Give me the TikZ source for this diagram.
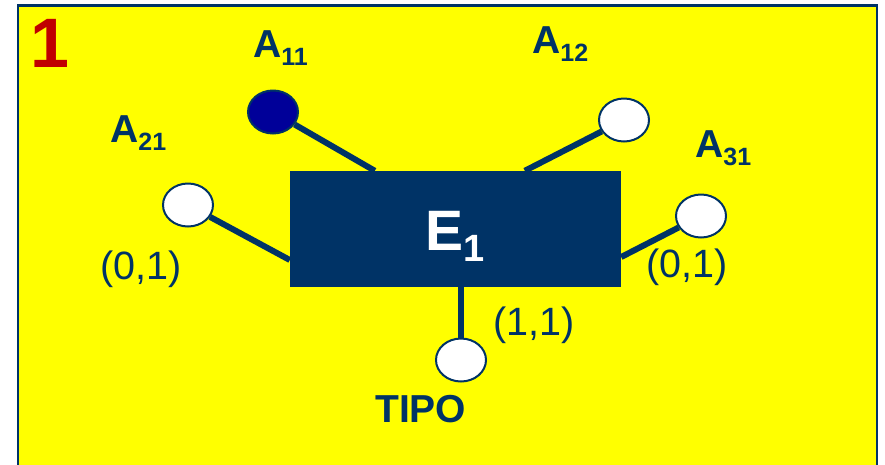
\documentclass[tikz,border=0pt]{standalone}
\usepackage{fontspec}
\setmainfont{Liberation Sans}
\usetikzlibrary{shapes,arrows,shapes.misc}
\usetikzlibrary{positioning}

\definecolor{blu}{HTML}{003366}
\definecolor{bluscuro}{HTML}{000099}
\definecolor{giallo}{HTML}{FFFF00}
\definecolor{rosso}{HTML}{C00000}

\tikzset{
	attr/.style={ellipse,draw=blu,line width=2pt,fill=white,minimum width=50pt,minimum height=43pt,inner sep=0pt},
	lbl/.style={anchor=base west,inner sep=0pt,text=blu,font=\fontsize{39}{39}\selectfont\bfseries},
	card/.style={anchor=base west,inner sep=0pt,text=blu,font=\fontsize{39.5}{39.5}\selectfont},
	link/.style={draw=blu,line width=6pt}
}
\newcommand{\pedice}[1]{\raisebox{-8pt}{\fontsize{25}{25}\selectfont #1}}

\begin{document}
\begin{tikzpicture}[x=1pt,y=-1pt]
		\useasboundingbox (0,0) rectangle (885,464);
		\fill[white] (0,0) rectangle (885,464);
		\draw[blu,line width=2.5pt,fill=giallo] (18,5.5) rectangle (877,490);
		\node[anchor=base west,inner sep=0pt,text=rosso,font=\fontsize{70}{70}\selectfont\bfseries] (num) at (30,67) {1};
		% entita
		\node[fill=blu,minimum width=331pt,minimum height=116pt,inner sep=0pt] (ent) at (455.5,229) {};
		\node[text=white,inner sep=0pt,font=\fontsize{57}{57}\selectfont\bfseries] (nome) at ([yshift=-7pt]ent.center) {E\raisebox{-11pt}{\fontsize{38}{38}\selectfont 1}};
		% attributi
		\node[attr,fill=bluscuro] (a11) at (273,112) {};
		\node[attr] (a12) at (624,120) {};
		\node[attr] (a21) at (188,205) {};
		\node[attr] (a31) at (701,216) {};
		\node[attr] (tipo) at (461,360) {};
		% collegamenti
		\draw[link] (a11) -- ([xshift=85pt]ent.north west);
		\draw[link] (a12) -- ([xshift=235pt]ent.north west);
		\draw[link] (a21) -- ([yshift=-31pt]ent.west);
		\draw[link] (a31) -- ([yshift=-28pt]ent.east);
		\draw[link] (tipo) -- (tipo |- ent.south);
		% etichette e cardinalita
		\node[lbl] (l11) at (253,57) {A\pedice{11}};
		\node[lbl] (l12) at (532,53) {A\pedice{12}};
		\node[lbl] (l21) at (110,142) {A\pedice{21}};
		\node[lbl] (l31) at (695,157) {A\pedice{31}};
		\node[lbl] (ltipo) at (375,422) {TIPO};
		\node[card] (c21) at (100,279) {(0,1)};
		\node[card] (c31) at (646,277) {(0,1)};
		\node[card] (ctipo) at (493,335) {(1,1)};
	\end{tikzpicture}
\end{document}
